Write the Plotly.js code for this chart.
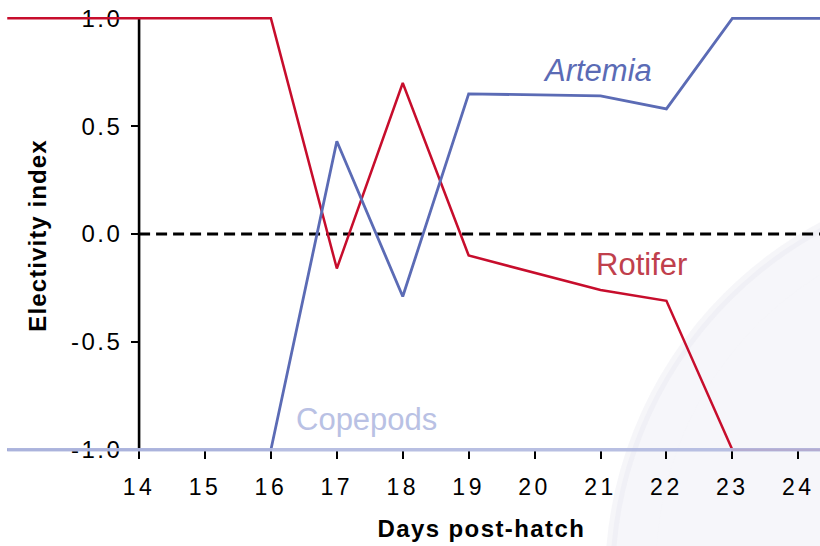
<!DOCTYPE html>
<html>
<head>
<meta charset="utf-8">
<script src="https://cdn.plot.ly/plotly-3.0.1.min.js"></script>
<style>
  html, body { margin: 0; padding: 0; background: #ffffff; }
  #chart { width: 820px; height: 546px; }
  .xtick text { letter-spacing: 3.5px; }
  .ytick text { letter-spacing: 2.5px; }
  g.annotation[data-index="3"] text { letter-spacing: 1.4px; }
  g.annotation[data-index="4"] text { letter-spacing: 1.1px; }
</style>
</head>
<body>
<div id="chart"></div>
<script>
// Days post-hatch (x values of the vertices)
const days = [12, 13, 14, 15, 16, 17, 18, 19, 21, 22, 23, 24, 25];
// Electivity index per prey type
const rotifer  = [1, 1, 1, 1, 1, -0.16, 0.70, -0.10, -0.26, -0.31, -1, -1, -1];
const artemia  = [-1, -1, -1, -1, -1, 0.43, -0.29, 0.65, 0.64, 0.58, 1, 1, 1];
const copepods = [-1, -1, -1, -1, -1, -1, -1, -1, -1, -1, -1, -1, -1];
// Axis ticks
const xTickVals = [14, 15, 16, 17, 18, 19, 20, 21, 22, 23, 24];
const xTickText = ["14", "15", "16", "17", "18", "19", "20", "21", "22", "23", "24"];
const yTickVals = [-1, -0.5, 0, 0.5, 1];
const yTickText = ["-1.0", "-0.5", "0.0", "0.5", "1.0"];

const FONT = "Liberation Sans, Arial, Helvetica, sans-serif";
const RED = "#c70d2c";
const BLUE = "#5b6bb5";
const LAV = "#b2badf";

const traces = [
  { x: days, y: rotifer, type: "scatter", mode: "lines", name: "Rotifer",
    line: { color: RED, width: 2.5 }, hoverinfo: "skip" },
  { x: days, y: artemia, type: "scatter", mode: "lines", name: "Artemia",
    line: { color: BLUE, width: 2.8 }, hoverinfo: "skip" },
  { x: days, y: copepods, type: "scatter", mode: "lines", name: "Copepods",
    line: { color: LAV, width: 3.6 }, opacity: 0.92, hoverinfo: "skip" }
];

const layout = {
  width: 820, height: 546,
  margin: { l: 0, r: 0, t: 14, b: 92, pad: 0 },
  paper_bgcolor: "#ffffff", plot_bgcolor: "#ffffff",
  showlegend: false,
  font: { family: FONT, color: "#000000" },
  xaxis: {
    range: [11.89, 24.33],
    anchor: "free", position: 0.0098,
    showgrid: false, zeroline: false, showline: false,
    tickmode: "array", tickvals: xTickVals, ticktext: xTickText,
    ticks: "outside", ticklen: 8, tickwidth: 2, tickcolor: "#000000",
    tickfont: { family: FONT, size: 23, color: "#000000" },
    ticklabelstandoff: 9,
    automargin: false, layer: "below traces", fixedrange: true
  },
  yaxis: {
    range: [-1.02, 1.02],
    anchor: "free", position: 0.1696,
    showgrid: false, zeroline: false, showline: false,
    tickmode: "array", tickvals: yTickVals, ticktext: yTickText,
    ticks: "outside", ticklen: 8, tickwidth: 2, tickcolor: "#000000",
    tickfont: { family: FONT, size: 24, color: "#000000" },
    ticklabelstandoff: 4,
    automargin: false, layer: "below traces", fixedrange: true
  },
  shapes: [
    // faint background swoosh
    { type: "circle", xref: "paper", yref: "paper", layer: "below",
      x0: 0.744, x1: 1.72, y0: -1.195, y1: 0.623,
      fillcolor: "rgba(236,236,244,0.45)", line: { color: "rgba(228,228,238,0.35)", width: 10 } },
    { type: "circle", xref: "paper", yref: "paper", layer: "below",
      x0: 0.80, x1: 1.66, y0: -1.05, y1: 0.53,
      fillcolor: "rgba(246,246,250,0.5)", line: { width: 0 } },
    // y axis line
    { type: "line", xref: "x", yref: "y", layer: "below",
      x0: 14, x1: 14, y0: -1, y1: 1, line: { color: "#000000", width: 2.6 } },
    // zero reference line
    { type: "line", xref: "x", yref: "y", layer: "below",
      x0: 14, x1: 24.33, y0: 0, y1: 0, line: { color: "#000000", width: 3, dash: "11px,6px" } }
  ],
  annotations: [
    { text: "<i>Artemia</i>", xref: "x", yref: "y", x: 20.96, y: 0.757,
      showarrow: false, font: { family: FONT, size: 31, color: BLUE } },
    { text: "Rotifer", xref: "x", yref: "y", x: 21.62, y: -0.14,
      showarrow: false, font: { family: FONT, size: 31, color: "#c0404c" } },
    { text: "Copepods", xref: "x", yref: "y", x: 17.45, y: -0.86,
      showarrow: false, font: { family: FONT, size: 31, color: "#b9c1e4" } },
    { text: "<b>Days post-hatch</b>", xref: "paper", yref: "paper", x: 0.5866, y: -0.17,
      xanchor: "center", yanchor: "middle",
      showarrow: false, font: { family: FONT, size: 24, color: "#000000" } },
    { text: "<b>Electivity index</b>", xref: "paper", yref: "paper", x: 0.0463, y: 0.498,
      xanchor: "center", yanchor: "middle", textangle: -90,
      showarrow: false, font: { family: FONT, size: 24, color: "#000000" } }
  ]
};

Plotly.newPlot("chart", traces, layout, { displayModeBar: false, staticPlot: true });
</script>
</body>
</html>
